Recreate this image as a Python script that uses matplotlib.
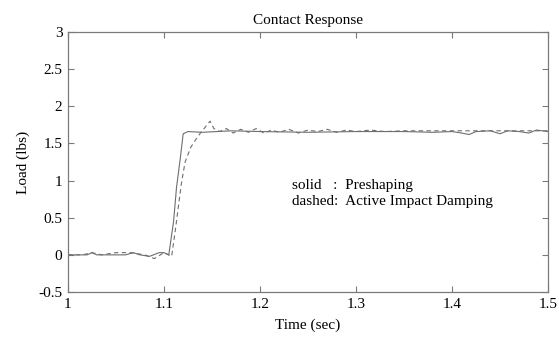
import matplotlib
matplotlib.use("Agg")
import matplotlib.pyplot as plt

# ----------------------------------------------------------------------
# Data
# ----------------------------------------------------------------------
solid_t = [1.000, 1.020, 1.025, 1.030, 1.060, 1.068, 1.075, 1.085, 1.095,
           1.100, 1.105, 1.110, 1.113, 1.117, 1.120, 1.125, 1.140, 1.170,
           1.200, 1.250, 1.300, 1.350, 1.380, 1.400, 1.410, 1.418, 1.425,
           1.440, 1.450, 1.458, 1.470, 1.480, 1.488, 1.500]
solid_load = [0.00, 0.00, 0.03, 0.00, 0.00, 0.03, 0.00, -0.02, 0.03,
              0.03, 0.00, 0.45, 0.90, 1.30, 1.63, 1.66, 1.65, 1.67,
              1.66, 1.65, 1.66, 1.66, 1.65, 1.66, 1.64, 1.62, 1.66,
              1.67, 1.63, 1.67, 1.66, 1.64, 1.68, 1.66]

dashed_t = [1.000, 1.015, 1.025, 1.035, 1.050, 1.065, 1.080, 1.090, 1.100,
            1.108, 1.112, 1.118, 1.122, 1.128, 1.133, 1.138, 1.143, 1.148,
            1.152, 1.158, 1.165, 1.172, 1.180, 1.188, 1.196, 1.204, 1.212,
            1.220, 1.230, 1.240, 1.250, 1.260, 1.270, 1.280, 1.290, 1.300,
            1.315, 1.330, 1.350, 1.380, 1.420, 1.460, 1.500]
dashed_load = [0.00, 0.00, 0.03, 0.00, 0.03, 0.03, 0.00, -0.05, 0.03,
               -0.02, 0.35, 0.95, 1.25, 1.45, 1.55, 1.64, 1.72, 1.80,
               1.70, 1.66, 1.70, 1.64, 1.69, 1.65, 1.70, 1.64, 1.68,
               1.65, 1.69, 1.64, 1.68, 1.66, 1.69, 1.65, 1.68, 1.66,
               1.68, 1.66, 1.67, 1.67, 1.67, 1.67, 1.67]

x_ticks = [1.0, 1.1, 1.2, 1.3, 1.4, 1.5]
x_tick_labels = ["1", "1.1", "1.2", "1.3", "1.4", "1.5"]
y_ticks = [-0.5, 0, 0.5, 1, 1.5, 2, 2.5, 3]
y_tick_labels = ["-0.5", "0", "0.5", "1", "1.5", "2", "2.5", "3"]

plt.rcParams["font.family"] = ["Liberation Serif", "DejaVu Serif"]

LINE = "#6e6e6e"
AXIS = "#7a7a7a"

fig = plt.figure(figsize=(5.59, 3.39), dpi=100)
ax = fig.add_axes([0.1216, 0.1386, 0.8587, 0.767])

ax.plot(solid_t, solid_load, color=LINE, linewidth=0.8)
ax.plot(dashed_t, dashed_load, color=LINE, linewidth=0.8, dashes=(4, 3))

ax.set_xlim(1.0, 1.5)
ax.set_ylim(-0.5, 3.0)
ax.set_xticks(x_ticks)
ax.set_xticklabels(x_tick_labels)
ax.set_yticks(y_ticks)
ax.set_yticklabels(y_tick_labels)

ax.tick_params(direction="in", length=4, width=0.8, color=AXIS,
               labelsize=11, top=True, right=True, pad=4)
for spine in ax.spines.values():
    spine.set_color(AXIS)
    spine.set_linewidth(0.9)

ax.set_title("Contact Response", fontsize=11, pad=6)
ax.set_xlabel("Time (sec)", fontsize=11, labelpad=6)
ax.set_ylabel("Load (lbs)", fontsize=11, labelpad=6)

ax.text(1.233, 0.93, "solid   :  Preshaping", fontsize=11, va="center")
ax.text(1.233, 0.72, "dashed:  Active Impact Damping", fontsize=11, va="center")

fig.savefig("out.png", dpi=100)
